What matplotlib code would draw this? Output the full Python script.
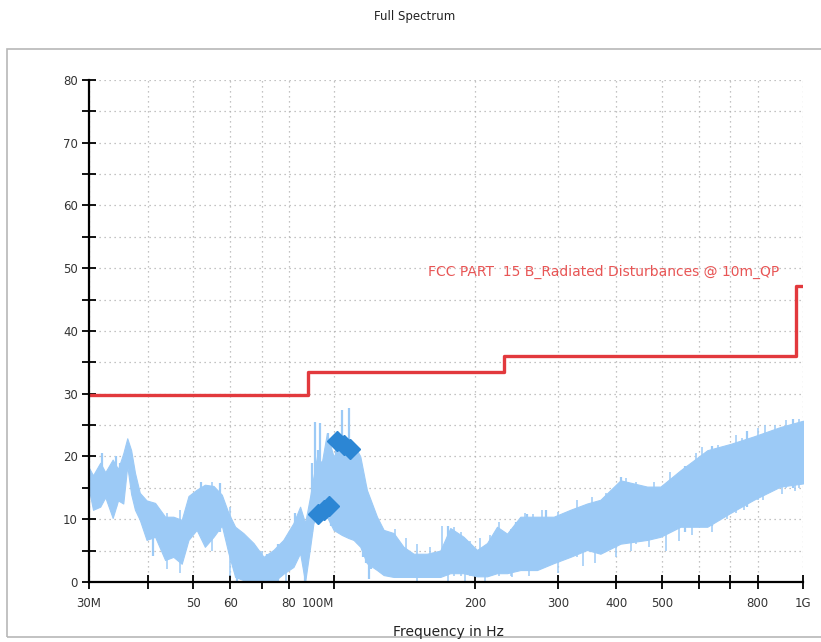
import matplotlib
matplotlib.use("Agg")
import matplotlib.pyplot as plt
from matplotlib.patches import Rectangle
from matplotlib.ticker import FixedLocator, NullFormatter

# spectrum envelope (MHz, dBuV/m)
freq = [30.0, 30.6, 31.7, 32.5, 33.7, 34.6, 35.5, 36.2, 36.9, 37.6, 38.5, 39.8, 41.5, 43.6, 45.4,
        47.3, 48.9, 50.9, 53.0, 55.3, 57.6, 59.5, 61.5, 64.0, 67.3, 70.7, 74.2, 77.9, 81.9, 84.6,
        86.7, 88.9, 90.3, 91.9, 94.1, 96.5, 99.7, 103.8, 107.3, 110, 113.7, 117.4, 123.4, 127.5, 133.9,
        140.6, 147.7, 157.7, 168.4, 176.9, 188.8, 201.7, 211.9, 222.5, 233.8, 249.5, 270.8, 293.9, 318.9, 346.2,
        369.7, 408, 465, 496.5, 547.8, 625, 700, 785, 895, 1000]
hi = [18.2, 17.0, 19.0, 17.5, 19.5, 18.0, 20.5, 22.9, 21.0, 17.4, 14.2, 13.0, 12.6, 10.4, 10.4,
      9.9, 13.7, 14.7, 15.5, 15.3, 13.9, 11.0, 8.8, 7.8, 6.2, 4.0, 5.1, 6.7, 9.4, 12.0,
      9.4, 13.7, 16.7, 20.0, 19.0, 23.7, 20.0, 22.0, 21.0, 22.1, 20.0, 14.7, 10.4, 8.3, 7.8,
      5.6, 4.5, 4.5, 5.0, 8.6, 7.2, 5.1, 6.2, 8.8, 7.7, 10.4, 10.4, 10.4, 11.5, 12.5,
      13.1, 16.2, 15.2, 15.2, 17.8, 21.0, 22.0, 23.2, 24.7, 25.7]
lo = [14.7, 11.5, 12.0, 13.5, 10.2, 13.0, 12.5, 18.5, 14.0, 11.5, 9.9, 6.7, 7.2, 3.5, 4.0,
      2.9, 6.7, 8.3, 5.6, 7.2, 9.0, 4.6, 0.8, 0.3, 0.0, 0.0, 0.0, 1.3, 2.4, 4.6,
      0.0, 5.6, 9.3, 10.9, 10.0, 10.4, 8.3, 7.5, 7.0, 6.7, 5.6, 3.0, 1.9, 1.1, 0.8,
      0.8, 0.8, 0.8, 0.8, 1.4, 1.4, 0.9, 0.9, 1.4, 1.4, 1.9, 1.9, 3.0, 4.0, 5.1,
      4.5, 6.1, 6.7, 7.2, 8.8, 8.8, 11.0, 13.1, 15.2, 15.7]

# individual spikes / dips
spike_freq = [32.0, 34.2, 35.0, 41.0, 52.0, 57.0, 62.0, 65.0, 68.5, 72.0,
              76.0, 82.5, 86.5, 89.5, 90.8, 92.5, 93.5, 95.0, 97.0, 98.5,
              101.0, 103.8, 105.5, 107.3, 109.0, 111.0, 112.5, 115.0, 117.0, 118.5,
              120.0, 175.0, 244.0, 258.0, 283.0, 410.0, 560.0, 640.0, 760.0, 950.0]
spike_low = [13, 12, 13, 4.2, 8, 8, 0, 0, 0, 0,
             0, 4, 0, 8, 10, 10, 10, 10, 10, 9,
             9, 8, 8, 7.5, 7, 6.5, 6, 4, 3, 0.5,
             2, 2, 2, 2, 3, 7, 8, 9, 12, 15]
spike_high = [20.5, 20, 19, 10, 16, 15.8, 8, 7, 5, 4.5,
              6, 11, 9, 19, 25.5, 21, 25.3, 18, 23.7, 17,
              21, 27.4, 19, 27.7, 22, 20, 18, 16, 15.2, 10,
              12, 9, 9.5, 10.8, 11.5, 16.8, 18.5, 21.7, 24, 26]

# smaller ragged edges of the trace
edge_freq = [135, 142, 150, 160, 170, 180, 186, 195, 205, 215, 225, 238, 255, 265, 278,
             300, 330, 355, 380, 420, 440, 480, 520, 590, 610, 660, 720, 740, 800, 830,
             870, 920, 980, 150, 175, 190, 210, 240, 260, 300, 340, 360, 400, 430, 470,
             510, 545, 580, 640, 690, 750, 820, 900, 960, 44, 47, 55, 60, 70, 79]
edge_low = [1, 1, 1, 1, 1, 1, 1, 1, 1, 1, 1, 1, 2, 2, 2,
            3, 4, 5, 5, 6, 6, 7, 8, 9, 9, 10, 11, 12, 13, 14,
            15, 15, 15, 0, 0, 0, 0.2, 0.8, 1, 1.5, 2.5, 3, 4, 5, 5.5,
            5, 6.5, 7.5, 8, 10, 11.5, 13, 14, 14.5, 2, 1.5, 5, 1, 0, 0]
edge_high = [8.5, 7, 6, 5.5, 9, 8.8, 8, 6.5, 7, 7.5, 9.5, 8.5, 11, 10.8, 11.5,
             11.2, 13, 13.5, 14.2, 16.5, 16, 16, 17.5, 20.5, 21.5, 21.8, 23.5, 23, 24.5, 25,
             25, 25.8, 26, 3, 3, 3, 3, 4, 4, 5, 6, 6, 8, 8, 9,
             9, 10, 11, 12, 13, 15, 17, 18, 18, 11, 11.5, 16, 12, 5, 7]

# limit line
limit_freq = [30, 88, 230, 965, 1000]
limit_level = [29.8, 33.5, 36.0, 47.2, 47.2]
limit_name = "FCC PART  15 B_Radiated Disturbances @ 10m_QP"

# QP measurement points
qp_freq = [92.5, 95.0, 97.6, 101.5, 104.7, 107.9]
qp_level = [10.8, 11.5, 12.1, 22.5, 21.8, 21.2]

xtick_major = [30, 50, 60, 80, 100, 200, 300, 400, 500, 800, 1000]
xtick_labels = ["30M", "50", "60", "80", "100M", "200", "300", "400", "500", "800", "1G"]
xtick_minor = [40, 70, 600, 700]

fig = plt.figure(figsize=(8.21, 6.42), dpi=100)
ax = fig.add_axes([0.1084, 0.0935, 0.8697, 0.7819])

fig.patches.append(Rectangle((0.0085, 0.0078), 1.0, 0.916, transform=fig.transFigure,
                             fill=False, edgecolor="#b8b8b8", linewidth=1.2))

spec_color = "#9ccaf6"
ax.fill_between(freq, lo, hi, color=spec_color, linewidth=0.8, edgecolor=spec_color, zorder=2)
ax.vlines(spike_freq, spike_low, spike_high, color=spec_color, linewidth=1.6, zorder=2)
ax.vlines(edge_freq, edge_low, edge_high, color=spec_color, linewidth=1.1, zorder=2)

ax.step(limit_freq, limit_level, where="post", color="#e2393d", linewidth=2.4, zorder=3)
ax.text(890, 49.4, limit_name, color="#e85555", fontsize=10, ha="right", va="center", zorder=4)

ax.plot(qp_freq, qp_level, linestyle="none", marker="D", markersize=10,
        color="#2c86d4", zorder=5)

ax.set_xscale("log")
ax.set_xlim(30, 1000)
ax.set_ylim(0, 80)

ax.xaxis.set_major_locator(FixedLocator(xtick_major))
ax.set_xticklabels(xtick_labels)
ax.xaxis.set_minor_locator(FixedLocator(xtick_minor))
ax.xaxis.set_minor_formatter(NullFormatter())
for lab in ax.get_xticklabels():
    if lab.get_text() == "100M":
        lab.set_horizontalalignment("right")

ax.set_yticks(range(0, 81, 10))
ax.set_yticks(range(5, 80, 10), minor=True)

ax.tick_params(which="both", direction="inout", length=10, width=1.3, color="black",
               labelsize=8.5, labelcolor="#333333")
ax.tick_params(axis="y", which="both", pad=3)
ax.tick_params(axis="x", which="both", pad=6)

ax.grid(True, which="both", linestyle=(0, (1, 3)), color="#b0b0b0", linewidth=0.9, zorder=0)
ax.set_axisbelow(True)

for s in ["top", "right"]:
    ax.spines[s].set_visible(False)
for s in ["left", "bottom"]:
    ax.spines[s].set_linewidth(1.6)
    ax.spines[s].set_zorder(6)

fig.text(0.505, 0.975, "Full Spectrum", ha="center", va="center", fontsize=8.5, color="#222222")
fig.text(0.546, 0.0156, "Frequency in Hz", ha="center", va="center", fontsize=10, color="#222222")

fig.savefig("out.png", dpi=100)
